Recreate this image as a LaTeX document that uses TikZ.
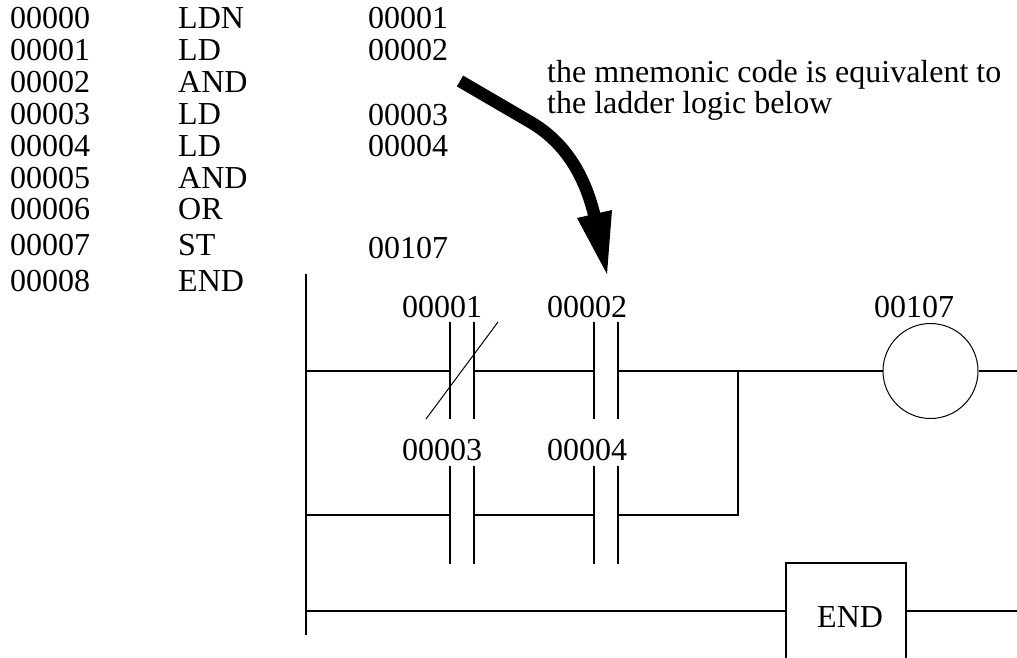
\documentclass[tikz,border=0pt]{standalone}
\usepackage{fontspec}
\setmainfont{Liberation Serif}
\begin{document}
\begin{tikzpicture}[x=1pt,y=-1pt,
 lbl/.style={anchor=base west,inner sep=0pt,font=\fontsize{32}{32}\selectfont},
 wire/.style={line width=1.9pt,black,line cap=butt},
 thinwire/.style={line width=1pt,black},
 coilshape/.style={circle,draw,black,line width=1pt,minimum size=95pt,inner sep=0pt}]
\useasboundingbox (0,0) rectangle (1017,657);
% mnemonic listing
\foreach \n/\y/\a/\b in {a/28/00000/LDN,b/60/00001/LD,c/92/00002/AND,d/124/00003/LD,e/156/00004/LD,f/188/00005/AND,g/219/00006/OR,h/255/00007/ST,i/291/00008/END}{
 \node[lbl] (\n1) at (10,\y) {\a};
 \node[lbl] (\n2) at (178,\y) {\b};
}
\foreach \n/\y/\c in {a/28/00001,b/60/00002,d/125/00003,e/156/00004,h/258/00107}{
 \node[lbl] (\n3) at (368,\y) {\c};
}
% annotation
\node[lbl] (t1) at (547,82) {the mnemonic code is equivalent to};
\node[lbl] (t2) at (547,113) {the ladder logic below};
% big arrow
\coordinate (arrowstart) at (460,81);
\coordinate (arrowmid) at (532,123);
\coordinate (arrowend) at (595,218);
\coordinate (hl) at (577,218);
\coordinate (hr) at (612,210);
\coordinate (ht) at (607,274);
\draw[line width=12.5pt,line cap=butt,black] (arrowstart) -- (arrowmid) .. controls (565,143) and (585,175) .. (arrowend);
\fill[black] (hl) -- (hr) -- (ht) -- cycle;
% rail
\coordinate (railtop) at (306,274);
\coordinate (railbot) at (306,635);
\draw[wire] (railtop) -- (railbot);
\coordinate (r1) at (306,371);
\coordinate (r2) at (306,515);
\coordinate (r3) at (306,611);
% contacts
\foreach \n/\x in {a/450,b/474,c/594,d/618}{
 \coordinate (\n t) at (\x,322); \coordinate (\n b) at (\x,419);
 \coordinate (\n m) at (\x,371);
 \coordinate (\n T) at (\x,466); \coordinate (\n B) at (\x,564);
 \coordinate (\n M) at (\x,515);
 \draw[wire] (\n t) -- (\n b);
 \draw[wire] (\n T) -- (\n B);
}
\coordinate (s1) at (498,322);
\coordinate (s2) at (426,419);
\draw[thinwire] (s1) -- (s2);
% contact labels
\node[lbl] (l1) at (402,317) {00001};
\node[lbl] (l2) at (547,317) {00002};
\node[lbl] (l3) at (402,460) {00003};
\node[lbl] (l4) at (547,460) {00004};
\node[lbl] (l5) at (874,317) {00107};
% coil
\node[coilshape] (coil) at (930.5,371) {};
\coordinate (re1) at (1017,371);
\coordinate (j1) at (738,371);
\coordinate (j2) at (738,515);
% wires
\draw[wire] (r1) -- (am);
\draw[wire] (bm) ++(1,0) -- (cm);
\draw[wire] (dm) ++(1,0) -- (coil.west);
\draw[wire] (coil.east) -- (re1);
\draw[wire] (r2) -- (aM);
\draw[wire] (bM) ++(1,0) -- (cM);
\draw[wire] (dM) ++(1,0) -- (j2 |- dM) -- (j2) -- (j1);
% END box
\coordinate (eb1) at (786,660);
\coordinate (eb2) at (786,563);
\coordinate (eb3) at (906,563);
\coordinate (eb4) at (906,660);
\coordinate (el) at (786,611);
\coordinate (er) at (906,611);
\coordinate (re3) at (1017,611);
\draw[wire,line join=miter] (eb1) -- (eb2) -- (eb3) -- (eb4);
\draw[wire] (r3) -- (el);
\draw[wire] (er) -- (re3);
\node[lbl] (endtxt) at (817,627) {END};
\end{tikzpicture}
\end{document}
